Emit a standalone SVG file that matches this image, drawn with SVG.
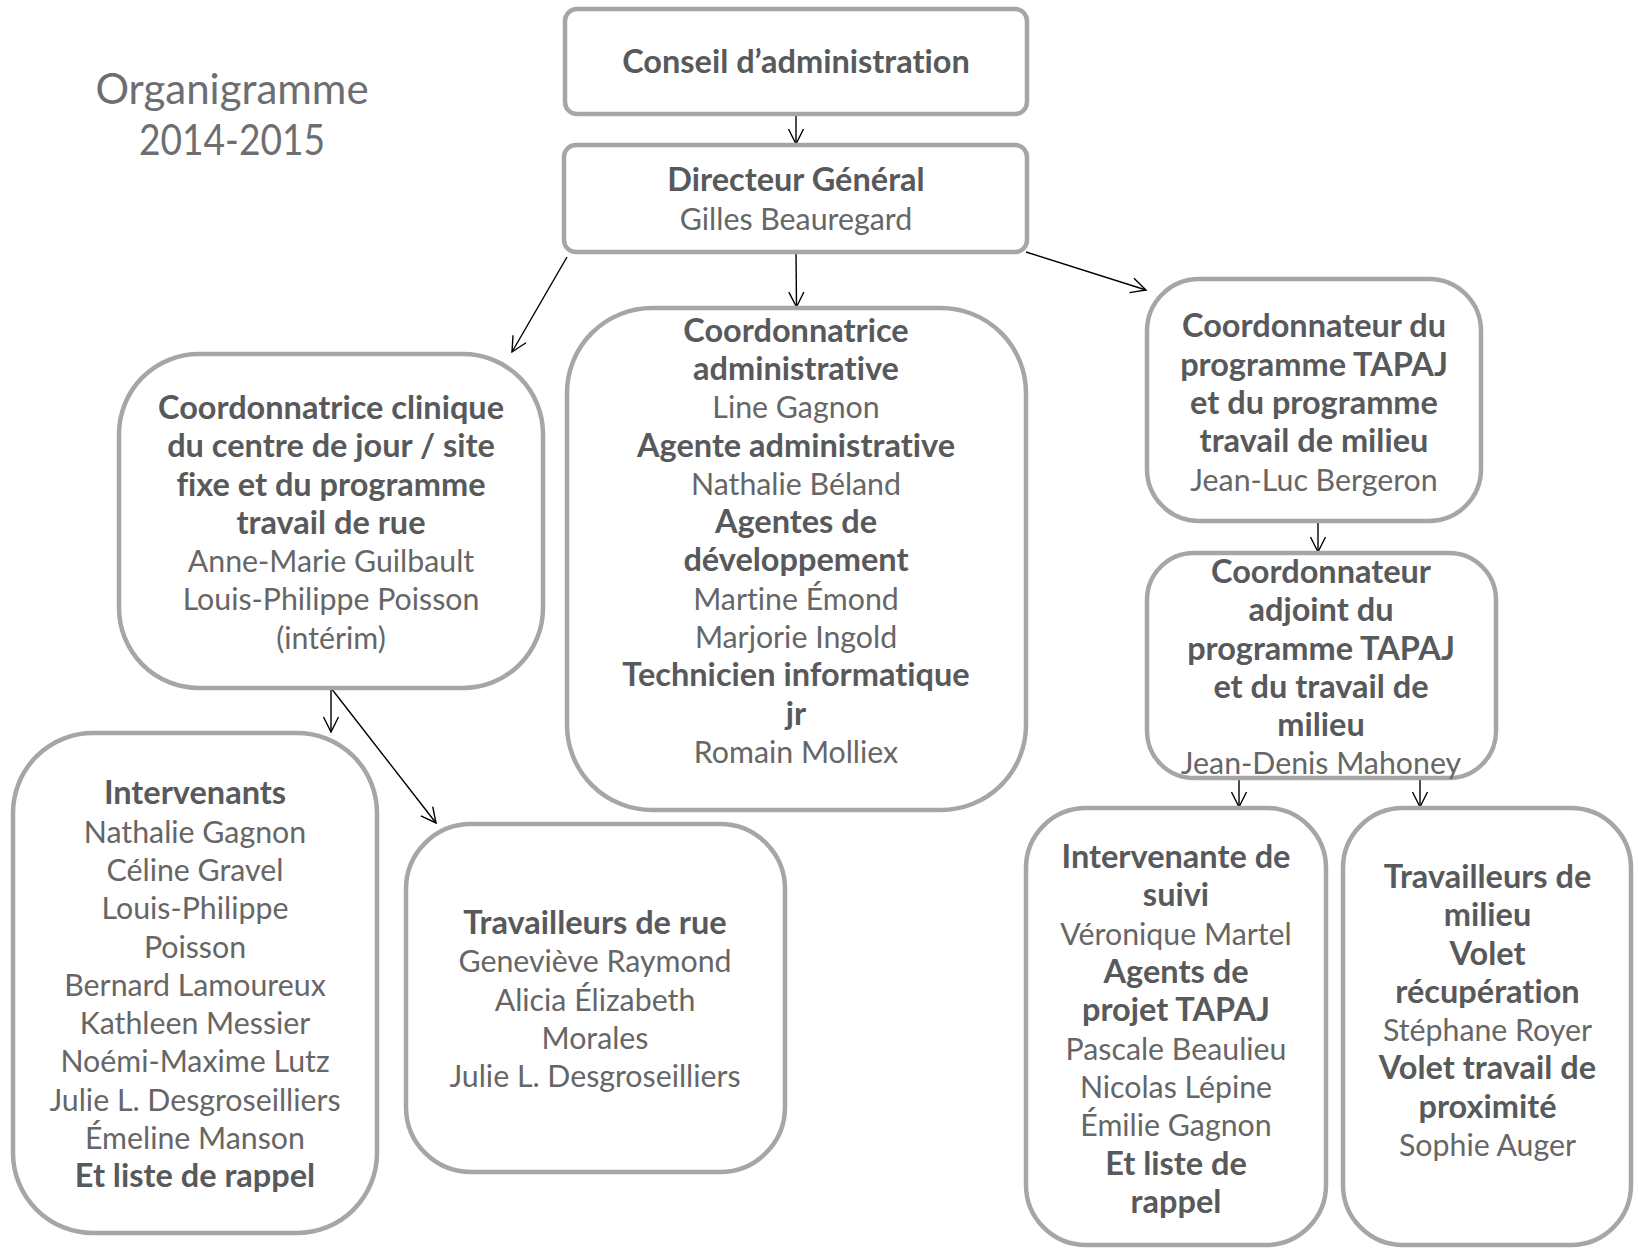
<svg xmlns="http://www.w3.org/2000/svg" width="1638" height="1248" viewBox="0 0 1638 1248">
<style>
.box{fill:#fff;stroke:#a6a6a6;stroke-width:4.5}
text{font-family:Lato,"Open Sans","Liberation Sans",sans-serif;text-anchor:middle;font-variant-ligatures:none}
.b{font-weight:bold;fill:#58595b;font-size:32.5px}
.r{fill:#666;font-size:30.3px}
.title{font-size:42px;fill:#6d6e71}
.conn line{stroke:#000;stroke-width:1.4;fill:none;marker-end:url(#arr)}
</style>
<defs>
<marker id="arr" markerUnits="userSpaceOnUse" markerWidth="20" markerHeight="20" viewBox="-16 -10 18 20" refX="0" refY="0" orient="auto">
<path d="M-15,-7.5 L0,0 L-15,7.5" fill="none" stroke="#000" stroke-width="1.4"/>
</marker>
</defs>
<rect width="1638" height="1248" fill="#fff"/>
<g id="title">
<text class="title" x="232" y="104">Organigramme</text>
<text class="title" x="232" y="155" textLength="186" lengthAdjust="spacingAndGlyphs">2014-2015</text>
</g>
<g class="conn" id="connectors">
<line x1="796" y1="114" x2="796" y2="144"/>
<line x1="796" y1="252" x2="796.5" y2="307"/>
<line x1="567" y1="257" x2="512" y2="352"/>
<line x1="1026" y1="252" x2="1146" y2="290"/>
<line x1="1318" y1="521" x2="1318" y2="552"/>
<line x1="331" y1="688" x2="331" y2="732"/>
<line x1="331" y1="688" x2="436" y2="823"/>
<line x1="1239" y1="778" x2="1239" y2="807"/>
<line x1="1420" y1="778" x2="1420" y2="807"/>
</g>
<g id="conseil">
<rect class="box" x="565" y="9" width="462" height="105" rx="12"/>
<text class="b" x="796" y="73">Conseil d’administration</text>
</g>
<g id="directeur">
<rect class="box" x="564" y="145" width="463" height="107" rx="12"/>
<text class="b" x="796" y="191">Directeur Général</text>
<text class="r" x="796" y="230">Gilles Beauregard</text>
</g>
<g id="coord-admin">
<rect class="box" x="567" y="308" width="459" height="502" rx="85"/>
<text class="b" x="796" y="341.6">Coordonnatrice</text>
<text class="b" x="796" y="379.9">administrative</text>
<text class="r" x="796" y="418.2">Line Gagnon</text>
<text class="b" x="796" y="456.5">Agente administrative</text>
<text class="r" x="796" y="494.8">Nathalie Béland</text>
<text class="b" x="796" y="533.1">Agentes de</text>
<text class="b" x="796" y="571.4">développement</text>
<text class="r" x="796" y="609.7">Martine Émond</text>
<text class="r" x="796" y="648">Marjorie Ingold</text>
<text class="b" x="796" y="686.3">Technicien informatique</text>
<text class="b" x="796" y="724.6">jr</text>
<text class="r" x="796" y="762.9">Romain Molliex</text>
</g>
<g id="coord-clinique">
<rect class="box" x="119" y="354" width="424" height="334" rx="80"/>
<text class="b" x="331" y="418.9">Coordonnatrice clinique</text>
<text class="b" x="331" y="457.2">du centre de jour / site</text>
<text class="b" x="331" y="495.5">fixe et du programme</text>
<text class="b" x="331" y="533.8">travail de rue</text>
<text class="r" x="331" y="572.1">Anne-Marie Guilbault</text>
<text class="r" x="331" y="610.4">Louis-Philippe Poisson</text>
<text class="r" x="331" y="648.7">(intérim)</text>
</g>
<g id="coord-tapaj">
<rect class="box" x="1147" y="279" width="334" height="242" rx="52"/>
<text class="b" x="1314" y="337.4">Coordonnateur du</text>
<text class="b" x="1314" y="375.7">programme TAPAJ</text>
<text class="b" x="1314" y="414">et du programme</text>
<text class="b" x="1314" y="452.3">travail de milieu</text>
<text class="r" x="1314" y="490.6">Jean-Luc Bergeron</text>
</g>
<g id="coord-adjoint">
<rect class="box" x="1147" y="553" width="349" height="225" rx="47"/>
<text class="b" x="1321" y="582.9">Coordonnateur</text>
<text class="b" x="1321" y="621.2">adjoint du</text>
<text class="b" x="1321" y="659.5">programme TAPAJ</text>
<text class="b" x="1321" y="697.8">et du travail de</text>
<text class="b" x="1321" y="736.1">milieu</text>
<text class="r" x="1321" y="774.4">Jean-Denis Mahoney</text>
</g>
<g id="intervenants">
<rect class="box" x="13" y="733" width="364" height="500" rx="80"/>
<text class="b" x="195" y="804.3">Intervenants</text>
<text class="r" x="195" y="842.6">Nathalie Gagnon</text>
<text class="r" x="195" y="880.9">Céline Gravel</text>
<text class="r" x="195" y="919.2">Louis-Philippe</text>
<text class="r" x="195" y="957.5">Poisson</text>
<text class="r" x="195" y="995.8">Bernard Lamoureux</text>
<text class="r" x="195" y="1034.1">Kathleen Messier</text>
<text class="r" x="195" y="1072.4">Noémi-Maxime Lutz</text>
<text class="r" x="195" y="1110.7">Julie L. Desgroseilliers</text>
<text class="r" x="195" y="1149">Émeline Manson</text>
<text class="b" x="195" y="1187.3">Et liste de rappel</text>
</g>
<g id="travailleurs-rue">
<rect class="box" x="406" y="824" width="379" height="348" rx="65"/>
<text class="b" x="595" y="933.9">Travailleurs de rue</text>
<text class="r" x="595" y="972.2">Geneviève Raymond</text>
<text class="r" x="595" y="1010.5">Alicia Élizabeth</text>
<text class="r" x="595" y="1048.8">Morales</text>
<text class="r" x="595" y="1087.1">Julie L. Desgroseilliers</text>
</g>
<g id="intervenante-suivi">
<rect class="box" x="1026" y="808" width="300" height="437" rx="60"/>
<text class="b" x="1176" y="868.1">Intervenante de</text>
<text class="b" x="1176" y="906.4">suivi</text>
<text class="r" x="1176" y="944.7">Véronique Martel</text>
<text class="b" x="1176" y="983">Agents de</text>
<text class="b" x="1176" y="1021.3">projet TAPAJ</text>
<text class="r" x="1176" y="1059.6">Pascale Beaulieu</text>
<text class="r" x="1176" y="1097.9">Nicolas Lépine</text>
<text class="r" x="1176" y="1136.2">Émilie Gagnon</text>
<text class="b" x="1176" y="1174.5">Et liste de</text>
<text class="b" x="1176" y="1212.8">rappel</text>
</g>
<g id="travailleurs-milieu">
<rect class="box" x="1343" y="808" width="288" height="437" rx="60"/>
<text class="b" x="1487.5" y="887.9">Travailleurs de</text>
<text class="b" x="1487.5" y="926.2">milieu</text>
<text class="b" x="1487.5" y="964.5">Volet</text>
<text class="b" x="1487.5" y="1002.8">récupération</text>
<text class="r" x="1487.5" y="1041.1">Stéphane Royer</text>
<text class="b" x="1487.5" y="1079.4">Volet travail de</text>
<text class="b" x="1487.5" y="1117.7">proximité</text>
<text class="r" x="1487.5" y="1156">Sophie Auger</text>
</g>
</svg>
